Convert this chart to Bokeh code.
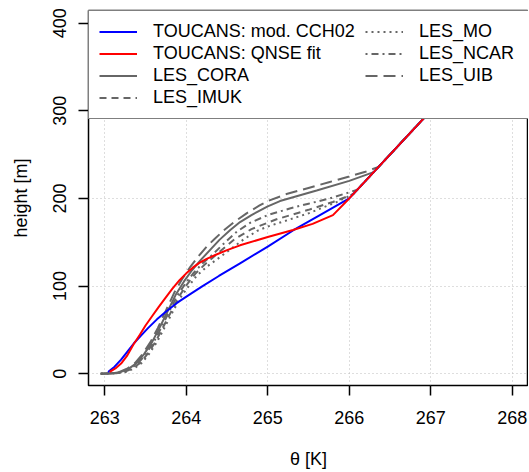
from bokeh.plotting import figure
from bokeh.models import Range1d, Legend, LegendItem, FixedTicker
from bokeh.embed import file_html
from bokeh.resources import INLINE

# ---- data (potential temperature [K] vs height [m]) ----
theta_cch02 = [263.04, 263.12, 263.20, 263.28, 263.36, 263.45, 263.53, 263.64, 263.76, 263.89,
               264.02, 264.20, 264.40, 264.66, 265.00, 265.32, 265.64, 266.00, 266.50, 267.00, 268.00]
z_cch02 = [2, 8, 16, 25.5, 35, 44, 52, 62, 71.5, 81,
           89, 100, 111.5, 126, 145, 164, 181, 200, 250, 300, 400]

theta_qnse = [263.06, 263.13, 263.20, 263.27, 263.35, 263.43, 263.50, 263.58, 263.66, 263.74,
              263.83, 263.92, 264.00, 264.08, 264.16, 264.25, 264.37, 264.50, 264.66, 265.00,
              265.31, 265.55, 265.80, 266.00, 267.00, 268.00]
z_qnse = [2, 6, 11.5, 20, 33, 44.5, 55, 65.5, 76, 86,
          97, 107, 114.5, 121, 126.5, 131, 136, 141, 146.5, 156,
          164, 171, 181, 200, 300, 400]

theta_cora = [262.95, 263.10, 263.20, 263.30, 263.39, 263.48, 263.58, 263.67, 263.77, 263.87,
              263.97, 264.07, 264.17, 264.29, 264.41, 264.54, 264.66, 264.80, 265.00, 265.15,
              265.30, 265.60, 266.00, 266.30, 267.00, 268.00]
z_cora = [0, 0.5, 2, 6, 12, 22, 36, 52, 71, 90,
          105, 118, 129, 141, 153, 164, 173, 181, 191, 197,
          201, 209, 220, 230, 300, 400]

theta_imuk = [262.95, 263.14, 263.24, 263.34, 263.43, 263.52, 263.62, 263.71, 263.81, 263.91,
              264.01, 264.11, 264.22, 264.32, 264.42, 264.60, 264.80, 265.10, 265.50, 265.80,
              266.05, 267.00, 268.00]
z_imuk = [0, 0.5, 2, 6, 12, 22, 36, 52, 70, 88,
          102, 114, 124, 132, 140, 154, 165, 176, 187, 196,
          205, 300, 400]

theta_mo = [262.95, 263.16, 263.26, 263.36, 263.45, 263.54, 263.64, 263.73, 263.83, 263.93,
            264.03, 264.13, 264.25, 264.37, 264.50, 264.70, 264.87, 265.00, 265.27, 265.50,
            265.85, 266.05, 267.00, 268.00]
z_mo = [0, 0.5, 2, 6, 12, 22, 36, 52, 70, 87,
        100, 112, 122, 130, 139, 153, 163, 168, 176, 183,
        196, 205, 300, 400]

theta_ncar = [262.95, 263.12, 263.22, 263.32, 263.41, 263.50, 263.60, 263.69, 263.79, 263.89,
              263.99, 264.09, 264.20, 264.30, 264.40, 264.50, 264.62, 264.78, 265.00, 265.27,
              265.50, 265.76, 266.00, 266.10, 267.00, 268.00]
z_ncar = [0, 0.5, 2, 6, 12, 22, 36, 52, 71, 89,
          103, 115, 126, 134, 143, 152, 162, 172, 181, 188.5,
          194, 200, 207, 210, 300, 400]

theta_uib = [262.95, 263.08, 263.18, 263.28, 263.37, 263.46, 263.56, 263.65, 263.75, 263.85,
             263.95, 264.05, 264.15, 264.25, 264.35, 264.46, 264.58, 264.74, 264.90, 265.00,
             265.23, 265.50, 265.75, 266.00, 266.20, 266.36, 267.00, 268.00]
z_uib = [0, 0.5, 2, 6, 12, 22, 36, 52, 72, 92,
         108, 122, 134, 145, 154, 163.5, 172.5, 183, 192, 197,
         205, 212, 218.5, 225, 230.5, 236, 300, 400]

x_ticks = [263, 264, 265, 266, 267, 268]
y_ticks = [0, 100, 200, 300, 400]

FONT = "Liberation Sans"
GRAY = "#666666"

p = figure(width=528, height=472, output_backend="svg", toolbar_location=None,
           x_range=Range1d(262.8, 268.2), y_range=Range1d(-13.5, 414.5),
           min_border_left=88, min_border_right=0, min_border_top=10, min_border_bottom=87,
           background_fill_color="white", border_fill_color="white")

p.outline_line_color = "black"
p.outline_line_width = 1.5

for ax, ticks in ((p.xaxis, x_ticks), (p.yaxis, y_ticks)):
    ax.ticker = FixedTicker(ticks=ticks)
    ax.axis_line_color = None
    ax.major_tick_in = 0
    ax.major_tick_out = 10
    ax.major_tick_line_color = "black"
    ax.major_tick_line_width = 1.5
    ax.minor_tick_line_color = None
    ax.major_label_text_font = FONT
    ax.major_label_text_font_size = "18px"
    ax.major_label_text_color = "black"
    ax.axis_label_text_font = FONT
    ax.axis_label_text_font_size = "18px"
    ax.axis_label_text_font_style = "normal"
    ax.axis_label_text_color = "black"

p.xaxis.axis_label = "θ [K]"
p.yaxis.axis_label = "height [m]"
p.xaxis.major_label_standoff = 15
p.xaxis.axis_label_standoff = 22
p.yaxis.major_label_orientation = "vertical"
p.yaxis.major_label_standoff = 12
p.yaxis.axis_label_standoff = 20

p.xgrid.ticker = FixedTicker(ticks=x_ticks)
p.ygrid.ticker = FixedTicker(ticks=y_ticks)
for g in (p.xgrid, p.ygrid):
    g.grid_line_color = "#bdbdbd"
    g.grid_line_dash = "1 3"
    g.grid_line_width = 1

r_cora = p.line(theta_cora, z_cora, line_color=GRAY, line_width=2)
r_imuk = p.line(theta_imuk, z_imuk, line_color=GRAY, line_width=2, line_dash="7 5")
r_mo = p.line(theta_mo, z_mo, line_color=GRAY, line_width=2, line_dash="2 4")
r_ncar = p.line(theta_ncar, z_ncar, line_color=GRAY, line_width=2, line_dash="2 4 7 4")
r_uib = p.line(theta_uib, z_uib, line_color=GRAY, line_width=2, line_dash="12 6")
r_cch = p.line(theta_cch02, z_cch02, line_color="#0000ff", line_width=2)
r_qnse = p.line(theta_qnse, z_qnse, line_color="#ff0000", line_width=2)

legend = Legend(items=[
    LegendItem(label="TOUCANS: mod. CCH02", renderers=[r_cch]),
    LegendItem(label="TOUCANS: QNSE fit", renderers=[r_qnse]),
    LegendItem(label="LES_CORA", renderers=[r_cora]),
    LegendItem(label="LES_IMUK", renderers=[r_imuk]),
    LegendItem(label="LES_MO", renderers=[r_mo]),
    LegendItem(label="LES_NCAR", renderers=[r_ncar]),
    LegendItem(label="LES_UIB", renderers=[r_uib]),
], location="top_left", nrows=4, orientation="vertical")
legend.margin = 0
legend.padding = 10
legend.spacing = 1
legend.glyph_width = 38
legend.glyph_height = 21
legend.label_height = 21
legend.label_width = 211
legend.label_standoff = 16
legend.label_text_font = FONT
legend.label_text_font_size = "18px"
legend.label_text_color = "black"
legend.border_line_color = "black"
legend.border_line_width = 1.5
legend.background_fill_color = "white"
legend.background_fill_alpha = 1.0
p.add_layout(legend)

open("out.html", "w").write(file_html(p, INLINE))
